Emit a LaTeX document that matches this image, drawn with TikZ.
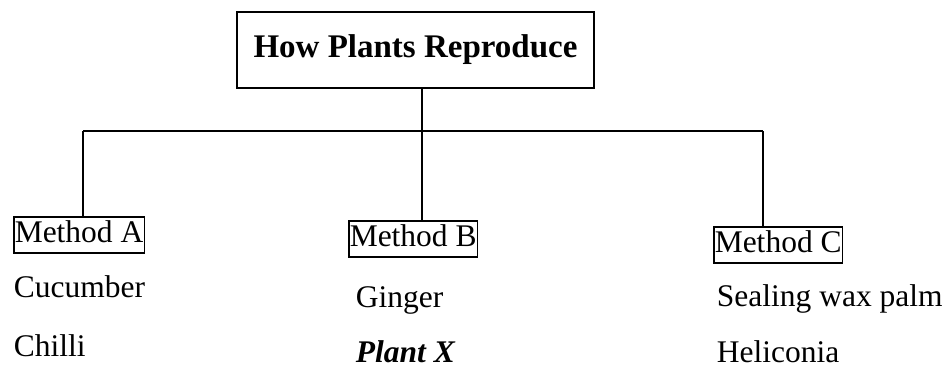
\documentclass[tikz,border=0pt]{standalone}
\usepackage{fontspec}
\setmainfont{Liberation Serif}
\usetikzlibrary{positioning}

\begin{document}
\begin{tikzpicture}[
    x = 1pt, y = -1pt, line width = 1.9pt,
    every node/.style = {font = \fontsize{31.5}{37}\selectfont,
      text height = 22pt, text depth = 7pt, inner sep = 1pt},
    methodbox/.style = {draw, line width = 1.5pt, inner ysep = 3.5pt, anchor = north west},
    plant/.style = {anchor = west, inner sep = 0pt}
  ]
  \useasboundingbox (0,0) rectangle (951,373);
  % root box
  \node[draw, line width = 1.7pt, minimum width = 357pt, minimum height = 76pt,
    font = \fontsize{33}{38}\selectfont\bfseries] (Root) at (415.5,50) {How Plants Reproduce};
  % the three methods
  \node[methodbox] (A) at (13,216) {Method A};
  \node[methodbox] (B) at (348,220) {Method B};
  \node[methodbox] (C) at (713,226) {Method C};
  % branches
  \coordinate (Split) at (422,131);
  \coordinate (LeftEnd) at (83,131);
  \coordinate (RightEnd) at (763,131);
  \draw (Root.south -| Split) -- (Split);
  \draw (LeftEnd) -- (RightEnd);
  \draw (LeftEnd) -- (LeftEnd |- A.north);
  \draw (Split) -- (Split |- B.north);
  \draw (RightEnd) -- (RightEnd |- C.north);
  % examples
  \node[plant] (Cucumber) at (13,290) {Cucumber};
  \node[plant] (Chilli) at (13,349) {Chilli};
  \node[plant] (Ginger) at (355,300) {Ginger};
  \node[plant, font = \fontsize{31.5}{37}\selectfont\bfseries\itshape] (PlantX) at (355,355) {Plant X};
  \node[plant] (Sealing) at (716,299) {Sealing wax palm};
  \node[plant] (Heliconia) at (716,355) {Heliconia};
\end{tikzpicture}
\end{document}
